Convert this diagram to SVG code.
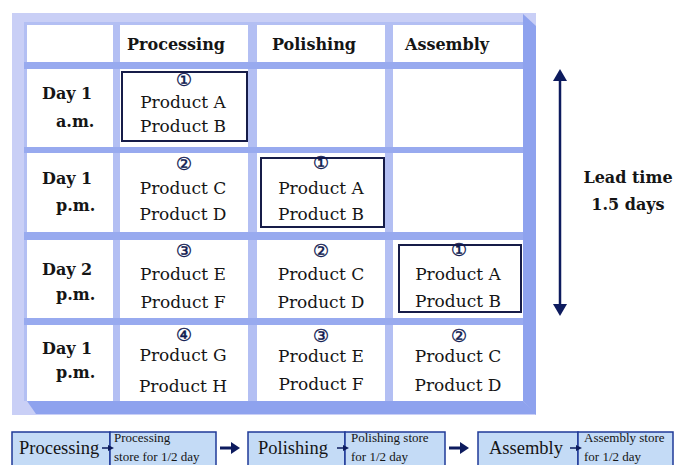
<svg xmlns="http://www.w3.org/2000/svg" width="675" height="465" viewBox="0 0 675 465">
  <style>
    .hdr { font-family: "DejaVu Serif", "Liberation Serif", serif; font-weight: bold; font-size: 16px; fill: #151515; }
    .day { font-family: "DejaVu Serif", "Liberation Serif", serif; font-weight: bold; font-size: 16px; fill: #151515; }
    .prod { font-family: "DejaVu Serif", "Liberation Serif", serif; font-size: 17px; fill: #151515; text-anchor: middle; }
    .num { font-family: "DejaVu Sans", sans-serif; font-size: 18px; fill: #101a50; stroke: #101a50; stroke-width: 0.4; text-anchor: middle; }
    .cell { fill: #ffffff; }
    .batch { fill: none; stroke: #161c48; stroke-width: 2; }
    .flow { fill: #c4dbf6; stroke: #1f3a98; stroke-width: 1.5; }
    .flowtxt { font-family: "Liberation Serif", "Times New Roman", serif; font-size: 18.5px; fill: #151515; }
    .storetxt { font-family: "Liberation Serif", "Times New Roman", serif; font-size: 13px; fill: #151515; }
    .navy { fill: #0d1b5e; }
    .navyline { stroke: #0d1b5e; fill: none; }
  </style>

  <!-- table frame with bevelled right and bottom sides -->
  <g id="table-frame">
    <rect x="12" y="13" width="524" height="402" fill="#c9cff6"/>
    <rect x="24" y="22" width="499" height="379" fill="#b3bff3"/>
    <polygon points="523,14 536,26 536,415 523,401" fill="#8ea2ee"/>
    <polygon points="27,401 523,401 536,414 36,414" fill="#8ea2ee"/>
    <!-- horizontal gaps between rows -->
    <rect x="24" y="62" width="499" height="7" fill="#98aaef"/>
    <rect x="24" y="147" width="499" height="6" fill="#98aaef"/>
    <rect x="24" y="232" width="499" height="8" fill="#98aaef"/>
    <rect x="24" y="318" width="499" height="7" fill="#98aaef"/>
  </g>

  <!-- white cells -->
  <g id="cells">
    <rect class="cell" x="27" y="25" width="86" height="37"/>
    <rect class="cell" x="120" y="25" width="128" height="37"/>
    <rect class="cell" x="257" y="25" width="128" height="37"/>
    <rect class="cell" x="393" y="25" width="130" height="37"/>

    <rect class="cell" x="27" y="69" width="86" height="78"/>
    <rect class="cell" x="120" y="69" width="128" height="78"/>
    <rect class="cell" x="257" y="69" width="128" height="78"/>
    <rect class="cell" x="393" y="69" width="130" height="78"/>

    <rect class="cell" x="27" y="153" width="86" height="79"/>
    <rect class="cell" x="120" y="153" width="128" height="79"/>
    <rect class="cell" x="257" y="153" width="128" height="79"/>
    <rect class="cell" x="393" y="153" width="130" height="79"/>

    <rect class="cell" x="27" y="240" width="86" height="78"/>
    <rect class="cell" x="120" y="240" width="128" height="78"/>
    <rect class="cell" x="257" y="240" width="128" height="78"/>
    <rect class="cell" x="393" y="240" width="130" height="78"/>

    <rect class="cell" x="27" y="325" width="86" height="76"/>
    <rect class="cell" x="120" y="325" width="128" height="76"/>
    <rect class="cell" x="257" y="325" width="128" height="76"/>
    <rect class="cell" x="393" y="325" width="130" height="76"/>
  </g>

  <!-- column headers -->
  <g id="headers">
    <text class="hdr" x="127" y="50">Processing</text>
    <text class="hdr" x="272" y="50">Polishing</text>
    <text class="hdr" x="405" y="50">Assembly</text>
  </g>

  <!-- time slots -->
  <g id="slots">
    <text class="day" x="42" y="99">Day 1</text>
    <text class="day" x="56" y="127">a.m.</text>
    <text class="day" x="42" y="184">Day 1</text>
    <text class="day" x="56" y="211">p.m.</text>
    <text class="day" x="42" y="275">Day 2</text>
    <text class="day" x="56" y="300">p.m.</text>
    <text class="day" x="42" y="354">Day 1</text>
    <text class="day" x="56" y="378">p.m.</text>
  </g>

  <!-- batch 1: Product A / Product B moving through the stages -->
  <g id="batch-1">
    <rect class="batch" x="122" y="72" width="125" height="69"/>
    <text class="num" x="184" y="86">①</text>
    <text class="prod" x="183" y="108">Product A</text>
    <text class="prod" x="183" y="132">Product B</text>

    <rect class="batch" x="261" y="158" width="123" height="69"/>
    <text class="num" x="321" y="169">①</text>
    <text class="prod" x="321" y="194">Product A</text>
    <text class="prod" x="321" y="220">Product B</text>

    <rect class="batch" x="399" y="245" width="122" height="67"/>
    <text class="num" x="459" y="256">①</text>
    <text class="prod" x="458" y="280">Product A</text>
    <text class="prod" x="458" y="307">Product B</text>
  </g>

  <!-- batch 2: Product C / Product D -->
  <g id="batch-2">
    <text class="num" x="184" y="170">②</text>
    <text class="prod" x="183" y="194">Product C</text>
    <text class="prod" x="183" y="220">Product D</text>

    <text class="num" x="321" y="257">②</text>
    <text class="prod" x="321" y="280">Product C</text>
    <text class="prod" x="321" y="308">Product D</text>

    <text class="num" x="459" y="342">②</text>
    <text class="prod" x="458" y="362">Product C</text>
    <text class="prod" x="458" y="391">Product D</text>
  </g>

  <!-- batch 3: Product E / Product F -->
  <g id="batch-3">
    <text class="num" x="184" y="257">③</text>
    <text class="prod" x="183" y="280">Product E</text>
    <text class="prod" x="183" y="308">Product F</text>

    <text class="num" x="321" y="342">③</text>
    <text class="prod" x="321" y="362">Product E</text>
    <text class="prod" x="321" y="390">Product F</text>
  </g>

  <!-- batch 4: Product G / Product H -->
  <g id="batch-4">
    <text class="num" x="184" y="341">④</text>
    <text class="prod" x="183" y="361">Product G</text>
    <text class="prod" x="183" y="392">Product H</text>
  </g>

  <!-- lead time indicator -->
  <g id="lead-time">
    <line class="navyline" x1="560" y1="78" x2="560" y2="307" stroke-width="2.5"/>
    <polygon class="navy" points="560,69 553,81 567,81"/>
    <polygon class="navy" points="560,316 553,304 567,304"/>
    <text class="hdr" x="628" y="183" text-anchor="middle">Lead time</text>
    <text class="hdr" x="628" y="210" text-anchor="middle">1.5 days</text>
  </g>

  <!-- process flow strip -->
  <g id="flow-processing">
    <rect class="flow" x="12" y="432" width="98" height="36"/>
    <rect class="flow" x="110" y="432" width="106" height="36"/>
    <text class="flowtxt" x="19" y="454">Processing</text>
    <text class="storetxt" x="114" y="442">Processing</text>
    <text class="storetxt" x="114" y="461">store for 1/2 day</text>
  </g>
  <g id="flow-polishing">
    <rect class="flow" x="248" y="432" width="97" height="36"/>
    <rect class="flow" x="345" y="432" width="100" height="36"/>
    <text class="flowtxt" x="258" y="454">Polishing</text>
    <text class="storetxt" x="351" y="442">Polishing store</text>
    <text class="storetxt" x="351" y="461">for 1/2 day</text>
  </g>
  <g id="flow-assembly">
    <rect class="flow" x="478" y="432" width="100" height="36"/>
    <rect class="flow" x="578" y="432" width="95" height="36"/>
    <text class="flowtxt" x="489" y="454">Assembly</text>
    <text class="storetxt" x="584" y="442">Assembly store</text>
    <text class="storetxt" x="584" y="461">for 1/2 day</text>
  </g>

  <!-- connectors between stages and stores -->
  <g id="connectors">
    <line class="navyline" x1="102" y1="448" x2="109" y2="448" stroke-width="1.5"/>
    <polygon class="navy" points="114,448 108,445 108,451"/>
    <line class="navyline" x1="220" y1="448" x2="232" y2="448" stroke-width="3"/>
    <polygon class="navy" points="240,448 231,442 231,454"/>

    <line class="navyline" x1="337" y1="448" x2="344" y2="448" stroke-width="1.5"/>
    <polygon class="navy" points="349,448 343,445 343,451"/>
    <line class="navyline" x1="449" y1="448" x2="461" y2="448" stroke-width="3"/>
    <polygon class="navy" points="469,448 460,442 460,454"/>

    <line class="navyline" x1="570" y1="448" x2="577" y2="448" stroke-width="1.5"/>
    <polygon class="navy" points="582,448 576,445 576,451"/>
  </g>
</svg>
